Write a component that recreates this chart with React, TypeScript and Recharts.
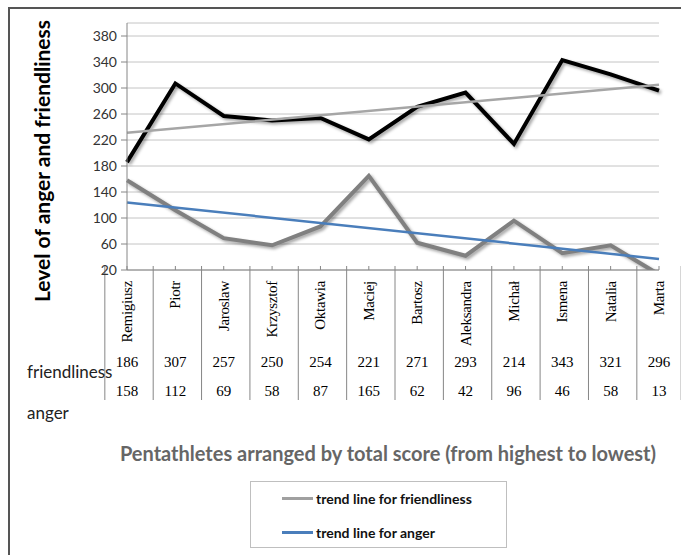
import React from "react";
import { LineChart, Line, XAxis, YAxis, CartesianGrid } from "recharts";

const athletes = [
  "Remigiusz",
  "Piotr",
  "Jaroslaw",
  "Krzysztof",
  "Oktawia",
  "Maciej",
  "Bartosz",
  "Aleksandra",
  "Michał",
  "Ismena",
  "Natalia",
  "Marta",
];
const friendliness = [186, 307, 257, 250, 254, 221, 271, 293, 214, 343, 321, 296];
const anger = [158, 112, 69, 58, 87, 165, 62, 42, 96, 46, 58, 13];
// trend line end points (first and last pentathlete)
const friendlinessTrend = [231, 305];
const angerTrend = [124, 37];
const yTicks = [20, 60, 100, 140, 180, 220, 260, 300, 340, 380];

const W = 681;
const H = 555;
const PLOT_LEFT = 127;
const PLOT_RIGHT = 659;
const PLOT_TOP = 23;
const AXIS_Y = 270;
const X_AXIS_H = 130;
const BAND = (PLOT_RIGHT - PLOT_LEFT) / athletes.length;
const TABLE_BOTTOM = 400;

const last = athletes.length - 1;
const chartData = athletes.map((name, i) => ({
  name,
  friendliness: friendliness[i],
  anger: anger[i],
  trendF: i === 0 ? friendlinessTrend[0] : i === last ? friendlinessTrend[1] : null,
  trendA: i === 0 ? angerTrend[0] : i === last ? angerTrend[1] : null,
}));

const legendItems = [
  { label: "trend line for friendliness", color: "#a0a0a0" },
  { label: "trend line for anger", color: "#4a7ebb" },
];

const TableTick = (props: any) => {
  const { payload } = props;
  const x = payload.coordinate;
  const i = payload.index;
  const serif = "'Liberation Serif', 'Times New Roman', serif";
  return (
    <g>
      <line x1={x} x2={x} y1={AXIS_Y - 4} y2={AXIS_Y} stroke="#868686" />
      <line x1={x - BAND / 2} x2={x - BAND / 2} y1={AXIS_Y - 4} y2={TABLE_BOTTOM} stroke="#868686" />
      {i === last && (
        <line x1={x + BAND / 2} x2={x + BAND / 2} y1={AXIS_Y - 4} y2={TABLE_BOTTOM} stroke="#868686" />
      )}
      <text
        x={x}
        y={281}
        transform={`rotate(-90 ${x} 281)`}
        textAnchor="end"
        dominantBaseline="central"
        fontFamily={serif}
        fontSize={15}
        letterSpacing={-0.3}
        fill="#000"
      >
        {payload.value}
      </text>
      <text x={x} y={362} textAnchor="middle" dominantBaseline="central" fontFamily={serif} fontSize={15} fill="#000">
        {friendliness[i]}
      </text>
      <text x={x} y={391} textAnchor="middle" dominantBaseline="central" fontFamily={serif} fontSize={15} fill="#000">
        {anger[i]}
      </text>
    </g>
  );
};

export default function App() {
  const sans = "Lato, 'Open Sans', sans-serif";
  return (
    <div style={{ position: "absolute", left: 0, top: 0, width: W, height: H, background: "#fff", overflow: "hidden" }}>
      <style>{`.shadowLine path { filter: drop-shadow(2px 2px 1.5px rgba(0,0,0,0.35)); }`}</style>
      <div
        style={{
          position: "absolute",
          left: 8,
          top: 7,
          width: W,
          height: H,
          borderLeft: "2px solid #555",
          borderTop: "2px solid #555",
        }}
      />
      <LineChart
        width={W}
        height={H}
        data={chartData}
        margin={{ top: PLOT_TOP, right: W - PLOT_RIGHT, bottom: H - AXIS_Y - X_AXIS_H, left: 0 }}
      >
        <CartesianGrid vertical={false} stroke="#c4c4c4" />
        <XAxis
          dataKey="name"
          tick={<TableTick />}
          tickLine={false}
          axisLine={{ stroke: "#868686" }}
          interval={0}
          height={X_AXIS_H}
        />
        <YAxis
          width={PLOT_LEFT}
          domain={[20, 400]}
          ticks={yTicks}
          allowDataOverflow
          tickSize={6}
          tickMargin={4}
          axisLine={{ stroke: "#868686" }}
          tickLine={{ stroke: "#868686" }}
          tick={{ fontFamily: sans, fontSize: 14, fill: "#333" }}
        />
        <Line
          dataKey="friendliness"
          stroke="#000"
          strokeWidth={4}
          dot={false}
          className="shadowLine"
          isAnimationActive={false}
        />
        <Line
          dataKey="anger"
          stroke="#808080"
          strokeWidth={4}
          dot={false}
          className="shadowLine"
          isAnimationActive={false}
        />
        <Line dataKey="trendF" stroke="#a6a6a6" strokeWidth={2.5} dot={false} connectNulls isAnimationActive={false} />
        <Line dataKey="trendA" stroke="#4a7ebb" strokeWidth={2.5} dot={false} connectNulls isAnimationActive={false} />
      </LineChart>

      <div
        style={{
          position: "absolute",
          left: 42 - 150,
          top: 161 - 13,
          width: 300,
          height: 26,
          lineHeight: "26px",
          textAlign: "center",
          transform: "rotate(-90deg)",
          fontFamily: sans,
          fontWeight: 700,
          fontSize: 21,
          color: "#000",
          whiteSpace: "nowrap",
        }}
      >
        Level of anger and friendliness
      </div>
      <div style={{ position: "absolute", left: 27, top: 361, fontFamily: sans, fontSize: 17, color: "#222" }}>
        friendliness
      </div>
      <div style={{ position: "absolute", left: 27, top: 402, fontFamily: sans, fontSize: 17, color: "#222" }}>
        anger
      </div>
      <div
        style={{
          position: "absolute",
          left: 88,
          width: 600,
          top: 441,
          textAlign: "center",
          fontFamily: sans,
          fontWeight: 700,
          fontSize: 20,
          color: "#666",
          whiteSpace: "nowrap",
        }}
      >
        Pentathletes arranged by total score (from highest to lowest)
      </div>
      <div
        style={{
          position: "absolute",
          left: 250,
          top: 481,
          width: 257,
          height: 67,
          border: "1px solid #bfbfbf",
          boxSizing: "border-box",
        }}
      >
        {legendItems.map((item, k) => (
          <div
            key={item.label}
            style={{
              position: "absolute",
              left: 31,
              top: 7 + k * 34,
              height: 18,
              display: "flex",
              alignItems: "center",
              fontFamily: sans,
              fontWeight: 700,
              fontSize: 14,
              color: "#111",
              whiteSpace: "nowrap",
            }}
          >
            <span style={{ display: "inline-block", width: 31, height: 3, background: item.color, marginRight: 3 }} />
            {item.label}
          </div>
        ))}
      </div>
    </div>
  );
}
